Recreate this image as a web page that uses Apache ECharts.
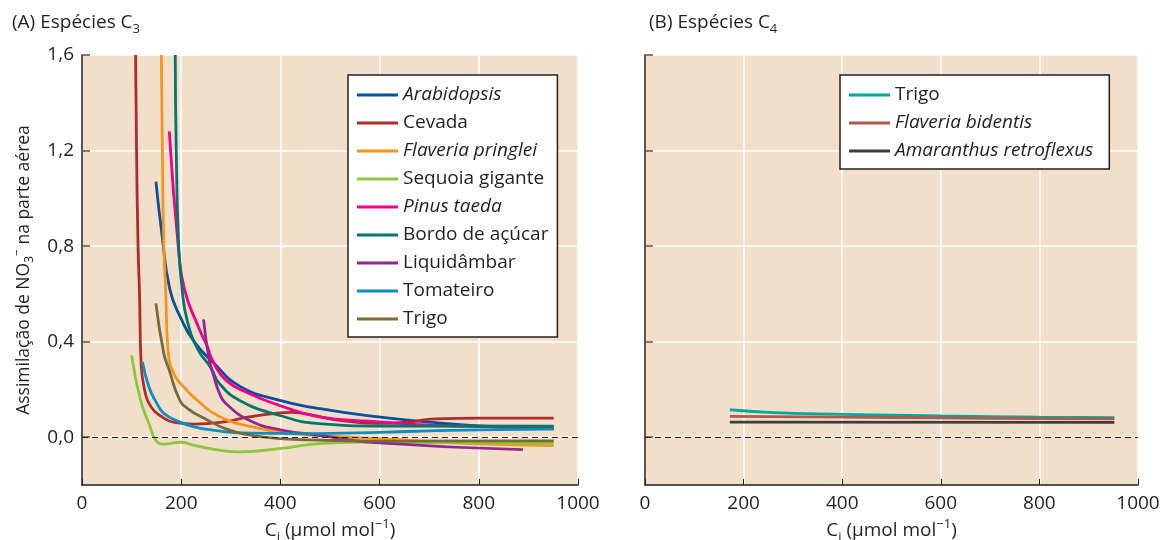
<!DOCTYPE html>
<html>
<head>
<meta charset="utf-8">
<script src="https://cdn.jsdelivr.net/npm/echarts@6/dist/echarts.min.js"></script>
<style>
  html, body { margin: 0; padding: 0; background: #fff; }
  #chart { width: 1162px; height: 540px; }
</style>
</head>
<body>
<div id="chart"></div>
<script>
// Ci (µmol mol-1) vs NO3- assimilation
const arabidopsis = [[149,1.07],[160,0.87],[177,0.62],[199,0.50],[226,0.40],[266,0.31],[317,0.215],[397,0.155],[478,0.12],[579,0.089],[714,0.061],[848,0.042],[951,0.036]]
const cevada = [[108,1.6],[110,1.2],[113,0.8],[116,0.6],[119,0.32],[126,0.2],[140,0.125],[158,0.09],[186,0.062],[226,0.055],[286,0.064],[337,0.085],[390,0.1],[424,0.104],[470,0.09],[505,0.075],[599,0.058],[650,0.062],[714,0.077],[800,0.08],[951,0.08]]
const flaveriaPringlei = [[160,1.6],[162,1.2],[165,0.8],[169,0.6],[173,0.38],[185,0.267],[212,0.195],[236,0.148],[276,0.088],[343,0.043],[424,0.015],[505,0.004],[599,-0.006],[781,-0.027],[951,-0.035]]
const sequoia = [[100,0.342],[118,0.155],[135,0.057],[149,-0.013],[165,-0.029],[199,-0.021],[226,-0.034],[286,-0.057],[317,-0.061],[397,-0.048],[478,-0.027],[559,-0.02],[700,-0.022],[951,-0.026]]
const pinus = [[176,1.28],[194,0.8],[207,0.616],[236,0.455],[253,0.378],[263,0.322],[290,0.239],[337,0.183],[397,0.134],[478,0.085],[599,0.064],[714,0.05],[951,0.04]]
const bordo = [[188,1.6],[190,1.2],[195,0.8],[202,0.616],[212,0.49],[233,0.37],[260,0.29],[277,0.225],[317,0.155],[397,0.092],[478,0.057],[599,0.047],[951,0.046]]
const liquidambar = [[245,0.493],[256,0.33],[265,0.26],[278,0.18],[290,0.141],[337,0.071],[397,0.032],[478,0.008],[599,-0.024],[889,-0.052]]
const tomateiro = [[122,0.315],[135,0.21],[150,0.145],[165,0.1],[196,0.065],[226,0.043],[263,0.03],[317,0.018],[438,0.015],[599,0.02],[714,0.028],[951,0.034]]
const trigoC3 = [[149,0.56],[165,0.35],[176,0.28],[196,0.16],[213,0.12],[250,0.075],[290,0.035],[330,0.012],[398,-0.006],[478,-0.012],[600,-0.016],[951,-0.015]]

const trigoC4 = [[172,0.115],[250,0.104],[400,0.096],[600,0.089],[800,0.084],[952,0.082]]
const flaveriaBidentis = [[172,0.087],[400,0.084],[600,0.081],[800,0.078],[952,0.077]]
const amaranthus = [[172,0.063],[952,0.062]]

const yTicks = [0, 0.4, 0.8, 1.2, 1.6]
const italicNames = ['Arabidopsis', 'Flaveria pringlei', 'Pinus taeda', 'Flaveria bidentis', 'Amaranthus retroflexus']

const c3Series = [
  ['Arabidopsis', arabidopsis, '#0b4f9c'],
  ['Cevada', cevada, '#b22b2b'],
  ['Flaveria pringlei', flaveriaPringlei, '#f7941d'],
  ['Sequoia gigante', sequoia, '#8dc63f'],
  ['Pinus taeda', pinus, '#ec008c'],
  ['Bordo de açúcar', bordo, '#00776b'],
  ['Liquidâmbar', liquidambar, '#92278f'],
  ['Tomateiro', tomateiro, '#0b8ec4'],
  ['Trigo', trigoC3, '#786a3a']
]
const c4Series = [
  ['Trigo (C4)', trigoC4, '#00a99d'],
  ['Flaveria bidentis', flaveriaBidentis, '#b5574a'],
  ['Amaranthus retroflexus', amaranthus, '#3d3d3d']
]

const FONT = 'Open Sans'
const FS = 19
const INK = '#231f20'
const rich = {
  s: {fontSize: 13, lineHeight: 13, verticalAlign: 'bottom', fontFamily: FONT, color: INK},
  sup: {fontSize: 13, lineHeight: 13, verticalAlign: 'top', fontFamily: FONT, color: INK},
  i: {fontStyle: 'italic', fontSize: FS, fontFamily: FONT, color: INK}
}
const yRich = {
  s: {fontSize: 12, lineHeight: 12, verticalAlign: 'bottom', fontFamily: FONT, color: INK},
  sup: {fontSize: 12, lineHeight: 12, verticalAlign: 'top', fontFamily: FONT, color: INK}
}

const chart = echarts.init(document.getElementById('chart'))

const makeX = (gi) => ({
  gridIndex: gi,
  type: 'value',
  min: 0,
  max: 1000,
  interval: 200,
  name: 'C{s|i} (µmol mol{sup|−1})',
  nameLocation: 'middle',
  nameGap: 29,
  nameTextStyle: {fontSize: FS, color: INK, fontFamily: FONT, lineHeight: 26, rich},
  axisLine: {onZero: false, lineStyle: {color: INK, width: 1.5}},
  axisTick: {inside: true, length: 6, lineStyle: {color: INK}},
  axisLabel: {fontSize: FS, color: INK, fontFamily: FONT, margin: 9, formatter: v => String(v)},
  splitLine: {show: true, lineStyle: {color: '#fff', width: 1.5}}
})
const makeY = (gi, labels) => ({
  gridIndex: gi,
  type: 'value',
  min: -0.2,
  max: 1.6,
  name: labels ? 'Assimilação de NO{s|3}{sup|−} na parte aérea' : '',
  nameLocation: 'middle',
  nameGap: 46,
  nameTextStyle: {fontSize: 17.5, color: INK, fontFamily: FONT, lineHeight: 24, rich: yRich},
  axisLine: {show: true, lineStyle: {color: INK, width: 1.5}},
  axisTick: {show: true, inside: true, length: 8, customValues: yTicks, lineStyle: {color: '#555', width: 1.5}},
  axisLabel: {show: labels, customValues: yTicks, fontSize: FS, color: INK, fontFamily: FONT, margin: 8,
    formatter: v => v.toFixed(1).replace('.', ',')},
  splitLine: {show: true, lineStyle: {color: '#fff', width: 1.5}}
})

const zeroLine = {
  silent: true,
  symbol: ['none', 'none'],
  label: {show: false},
  lineStyle: {type: [6, 4], color: INK, width: 1.2},
  data: [{yAxis: 0}]
}

const buildSeries = (list, gi) => list.map((s, idx) => ({
  name: s[0],
  type: 'line',
  xAxisIndex: gi,
  yAxisIndex: gi,
  data: s[1],
  showSymbol: false,
  smooth: 0.5,
  clip: true,
  color: s[2],
  lineStyle: {width: 2.8, color: s[2]},
  markLine: idx === 0 ? zeroLine : undefined
}))

const legendBase = {
  orient: 'vertical',
  backgroundColor: '#fff',
  borderColor: INK,
  borderWidth: 1.5,
  borderRadius: 0,
  padding: [9, 9, 7, 9],
  itemWidth: 41,
  itemHeight: 3,
  itemGap: 6,
  icon: 'rect',
  textStyle: {fontSize: FS, color: INK, fontFamily: FONT, lineHeight: 22, rich},
  formatter: name => {
    const label = name.replace(' (C4)', '')
    return italicNames.includes(label) ? '{i|' + label + '}' : label
  }
}

const gridBase = {top: 55, height: 430, show: true, backgroundColor: '#f1dfca', borderWidth: 0, outerBoundsMode: 'none', containLabel: false}

chart.setOption({
  animation: false,
  textStyle: {fontFamily: FONT},
  title: [
    {text: '(A) Espécies C{s|3}', left: 7, top: 5, textStyle: {fontSize: FS, fontWeight: 'normal', color: INK, fontFamily: FONT, lineHeight: 26, rich}},
    {text: '(B) Espécies C{s|4}', left: 644, top: 5, textStyle: {fontSize: FS, fontWeight: 'normal', color: INK, fontFamily: FONT, lineHeight: 26, rich}}
  ],
  grid: [
    Object.assign({}, gridBase, {left: 82, width: 496}),
    Object.assign({}, gridBase, {left: 645, width: 493})
  ],
  xAxis: [makeX(0), makeX(1)],
  yAxis: [makeY(0, true), makeY(1, false)],
  legend: [
    Object.assign({}, legendBase, {left: 348, top: 75, data: c3Series.map(s => s[0])}),
    Object.assign({}, legendBase, {left: 840, top: 75, padding: [9, 16, 7, 9], data: c4Series.map(s => s[0])})
  ],
  series: buildSeries(c3Series, 0).concat(buildSeries(c4Series, 1))
})
</script>
</body>
</html>
